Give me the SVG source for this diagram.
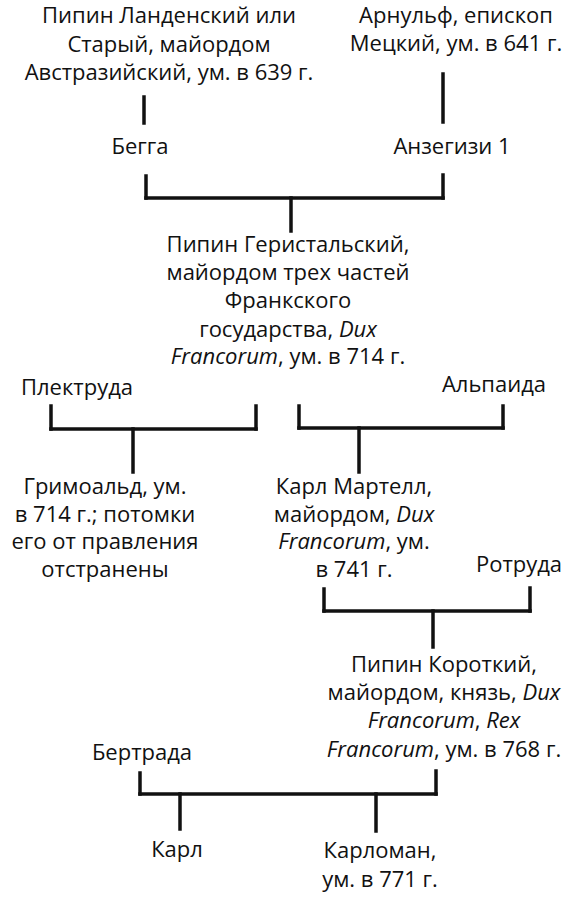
<svg xmlns="http://www.w3.org/2000/svg" width="583" height="900" viewBox="0 0 583 900">
<style>
text{font-family:"Open Sans","Noto Sans","DejaVu Sans",sans-serif;font-size:22px;fill:#111;text-anchor:middle}
.l{text-anchor:start}
.i{font-style:italic}
.c line{stroke:#111;stroke-width:3.5;stroke-linecap:square}
</style>
<rect width="583" height="900" fill="#fff"/>
<g class="c" id="connectors">
<line x1="144" y1="97" x2="144" y2="123"/>
<line x1="443" y1="74" x2="443" y2="122"/>
<line x1="146" y1="176" x2="146" y2="198"/>
<line x1="146" y1="198" x2="443" y2="198"/>
<line x1="443" y1="175" x2="443" y2="198"/>
<line x1="291" y1="198" x2="291" y2="231"/>
<line x1="51" y1="406" x2="51" y2="429"/>
<line x1="51" y1="429" x2="256" y2="429"/>
<line x1="256" y1="406" x2="256" y2="429"/>
<line x1="133" y1="429" x2="133" y2="472"/>
<line x1="299" y1="406" x2="299" y2="428"/>
<line x1="299" y1="428" x2="503" y2="428"/>
<line x1="503" y1="406" x2="503" y2="428"/>
<line x1="359" y1="428" x2="359" y2="472"/>
<line x1="324" y1="589" x2="324" y2="611"/>
<line x1="324" y1="611" x2="530" y2="611"/>
<line x1="530" y1="588" x2="530" y2="611"/>
<line x1="433" y1="611" x2="433" y2="647"/>
<line x1="140" y1="773" x2="140" y2="794"/>
<line x1="140" y1="794" x2="436" y2="794"/>
<line x1="436" y1="771" x2="436" y2="794"/>
<line x1="180" y1="794" x2="180" y2="829"/>
<line x1="376" y1="794" x2="376" y2="831"/>
</g>
<g id="pepin-landen">
<text x="169" y="23">Пипин Ланденский или</text>
<text x="169" y="52">Старый, майордом</text>
<text x="169" y="80">Австразийский, ум. в 639 г.</text>
</g>
<g id="arnulf">
<text x="456" y="23">Арнульф, епископ</text>
<text x="456" y="51">Мецкий, ум. в 641 г.</text>
</g>
<g id="begga"><text x="140" y="154">Бегга</text></g>
<g id="ansegisel"><text x="452" y="154">Анзегизи 1</text></g>
<g id="pepin-herstal">
<text x="288" y="252">Пипин Геристальский,</text>
<text x="288" y="280">майордом трех частей</text>
<text x="288" y="308">Франкского</text>
<text x="288" y="337">государства, <tspan class="i">Dux</tspan></text>
<text x="288" y="364"><tspan class="i">Francorum</tspan>, ум. в 714 г.</text>
</g>
<g id="plectrude"><text class="l" x="21" y="395">Плектруда</text></g>
<g id="alpaida"><text x="494" y="392">Альпаида</text></g>
<g id="grimoald">
<text x="105" y="494">Гримоальд, ум.</text>
<text x="105" y="522">в 714 г.; потомки</text>
<text x="105" y="549">его от правления</text>
<text x="105" y="577">отстранены</text>
</g>
<g id="charles-martel">
<text x="354" y="494">Карл Мартелл,</text>
<text x="354" y="522">майордом, <tspan class="i">Dux</tspan></text>
<text x="354" y="549"><tspan class="i">Francorum</tspan>, ум.</text>
<text x="354" y="577">в 741 г.</text>
</g>
<g id="rotrude"><text x="519" y="572">Ротруда</text></g>
<g id="pepin-short">
<text x="444" y="672">Пипин Короткий,</text>
<text x="444" y="700">майордом, князь, <tspan class="i">Dux</tspan></text>
<text x="444" y="728"><tspan class="i">Francorum</tspan>, <tspan class="i">Rex</tspan></text>
<text x="444" y="757"><tspan class="i">Francorum</tspan>, ум. в 768 г.</text>
</g>
<g id="bertrada"><text x="142" y="760">Бертрада</text></g>
<g id="charles"><text x="177" y="857">Карл</text></g>
<g id="carloman">
<text x="380" y="858">Карломан,</text>
<text x="380" y="887">ум. в 771 г.</text>
</g>
</svg>
